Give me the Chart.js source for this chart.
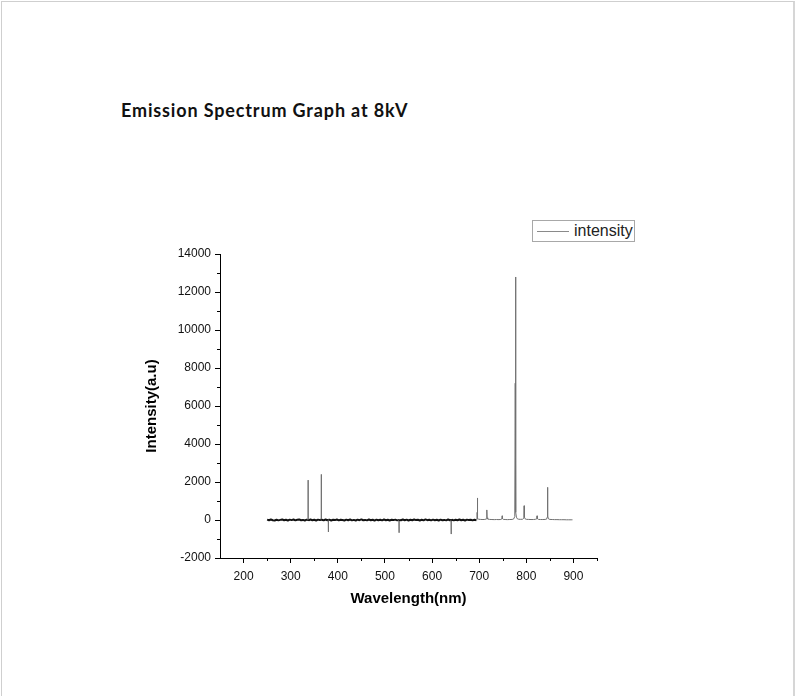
<!DOCTYPE html>
<html>
<head>
<meta charset="utf-8">
<script src="https://cdn.jsdelivr.net/npm/chart.js@4.4.1/dist/chart.umd.min.js"></script>
<style>
  html, body { margin: 0; padding: 0; background: #fff; }
  body { width: 797px; height: 696px; position: relative; overflow: hidden; }
  #frame { position: absolute; left: 1px; top: 1px; width: 791px; height: 720px;
           border-left: 1px solid #cfcfcf; border-top: 1px solid #cfcfcf; border-right: 2px solid #d6d6d6; }
  #title { position: absolute; left: 121px; top: 101px; font-family: Lato, "Open Sans", sans-serif;
           font-weight: bold; font-size: 18px; line-height: 18px; letter-spacing: 0.85px; color: #111; white-space: nowrap; }
  #legend { position: absolute; left: 532px; top: 220px; width: 101px; height: 20px;
            border: 1px solid #a8a8a8; background: #fff; }
  #legend .ln { position: absolute; left: 4px; top: 10px; width: 32px; height: 1px; background: #8a8a8a; }
  #legend .tx { position: absolute; left: 41px; top: 0px; font-family: "Liberation Sans", Arial, sans-serif;
                font-size: 16px; line-height: 20px; color: #222; }
  canvas { position: absolute; left: 0; top: 0; }
</style>
</head>
<body>
<div id="frame"></div>
<div id="title">Emission Spectrum Graph at 8kV</div>
<canvas id="c" width="797" height="696"></canvas>
<div id="legend"><div class="ln"></div><div class="tx">intensity</div></div>
<script>
// ---- data ----
const seriesName = 'intensity';
const xTitle = 'Wavelength(nm)';
const yTitle = 'Intensity(a.u)';
const xTickValues = [200, 300, 400, 500, 600, 700, 800, 900];
const xMinorTicks = [250, 350, 450, 550, 650, 750, 850, 950];
const yTickValues = [-2000, 0, 2000, 4000, 6000, 8000, 10000, 12000, 14000];
const yMinorTicks = [-1000, 1000, 3000, 5000, 7000, 9000, 11000, 13000];

const wavelength = [
  250,254,258,262,266,270,274,278,282,286,290,294,298,302,306,310,314,318,322,326,330,334,
  336.9,337,337.1,338,342,346,350,354,358,362,364.9,365,365.1,366,370,374,378,379.9,380,380.1,
  382,386,390,394,398,402,406,410,414,418,422,426,430,434,438,442,446,450,454,458,462,466,470,
  474,478,482,486,490,494,498,502,506,510,514,518,522,526,529.9,530,530.1,534,538,542,546,550,
  554,558,562,566,570,574,578,582,586,590,594,598,602,606,610,614,618,622,626,630,634,638,
  640.5,640.6,640.7,642,646,650,654,658,662,666,670,674,678,682,686,690,694,
  695.2,695.6,696,696.4,697,699,703,708,712,715.6,716.2,716.8,718,722,727,732,737,742,746,
  748.2,748.8,749.4,751,755,760,765,770,773,775.5,776.5,777,777.5,778,779,781,784,788,792,
  794.8,795.4,796,797.5,800,805,810,815,819,822.2,822.8,823.4,826,830,835,840,843,844.4,845,
  845.6,847,850,855,860,865,870,875,880,885,890,895,898
];
const intensity = [
  20,-15,25,-10,-25,15,-20,5,30,-15,10,-25,20,-5,25,-20,10,30,-15,5,-25,20,
  5,2100,0,-20,25,-10,15,-25,20,-5,10,2400,-5,15,-20,25,-15,5,-630,0,
  20,-25,10,-5,25,-20,15,0,-25,20,-10,25,-20,5,-25,20,-10,30,-15,5,-20,25,-10,
  15,-30,20,-15,10,-20,25,-10,15,-25,10,-5,20,-20,-5,-670,5,-15,25,-10,20,-25,
  10,-15,25,-5,15,-25,10,-20,30,-10,15,-20,20,-10,10,-25,20,-15,5,-20,25,-10,
  0,-740,0,15,-20,15,-10,25,-15,10,-25,20,-5,15,-20,10,-10,
  30,400,1160,300,80,40,30,25,30,60,530,120,50,30,25,20,25,20,30,
  60,220,70,35,25,20,25,30,50,180,7200,12790,3000,400,150,60,40,35,40,
  100,750,150,60,35,30,25,25,35,60,220,70,30,25,25,30,45,150,1720,
  200,60,30,25,20,20,15,15,15,10,10,10,10
];
const noisyEnd = 694;  // the dense, noisy part of the spectrum ends here

const points = wavelength.map((w, i) => ({ x: w, y: intensity[i] }));

const axisFont = { family: '"Liberation Sans", Arial, sans-serif', size: 12 };
const titleFont = { family: '"Liberation Sans", Arial, sans-serif', size: 15, weight: 'bold' };

const isNoise = ctx => ctx.p1.parsed.x <= noisyEnd &&
  Math.abs(ctx.p0.parsed.y) < 300 && Math.abs(ctx.p1.parsed.y) < 300;

const minorTicks = {
  id: 'minorTicks',
  afterDraw(chart) {
    const { ctx, scales: { x, y }, chartArea } = chart;
    ctx.save();
    ctx.strokeStyle = '#000';
    ctx.lineWidth = 1;
    ctx.beginPath();
    xMinorTicks.forEach(v => {
      const px = Math.round(x.getPixelForValue(v)) + 0.5;
      ctx.moveTo(px, chartArea.bottom);
      ctx.lineTo(px, chartArea.bottom + 3);
    });
    yMinorTicks.forEach(v => {
      const py = Math.round(y.getPixelForValue(v)) + 0.5;
      ctx.moveTo(chartArea.left - 3, py);
      ctx.lineTo(chartArea.left, py);
    });
    ctx.stroke();
    ctx.restore();
  }
};

new Chart(document.getElementById('c'), {
  type: 'scatter',
  data: {
    datasets: [{
      label: seriesName,
      data: points,
      showLine: true,
      pointRadius: 0,
      borderWidth: 1,
      borderColor: '#7a7a7a',
      borderJoinStyle: 'bevel',
      segment: {
        borderColor: ctx => (isNoise(ctx) ? '#111' : '#707070'),
        borderWidth: ctx => (isNoise(ctx) ? 2 : 1)
      }
    }]
  },
  options: {
    responsive: false,
    animation: false,
    devicePixelRatio: 1,
    layout: { padding: { left: 140, right: 200, top: 254, bottom: 78 } },
    plugins: { legend: { display: false }, title: { display: false }, tooltip: { enabled: false } },
    scales: {
      x: {
        type: 'linear', position: 'bottom', min: 150, max: 950,
        afterBuildTicks: s => { s.ticks = xTickValues.map(v => ({ value: v })); },
        afterFit: s => { s.height = 60; },
        border: { display: true, color: '#000', width: 1 },
        grid: { display: true, drawOnChartArea: false, drawTicks: true, tickLength: 5, tickColor: '#000' },
        ticks: { color: '#111', font: axisFont, padding: 6, maxRotation: 0, autoSkip: false,
                 callback: v => String(v) },
        title: { display: true, text: xTitle, color: '#000', font: titleFont, padding: { top: 0, bottom: 10 } }
      },
      y: {
        type: 'linear', position: 'left', min: -2000, max: 14000,
        afterBuildTicks: s => { s.ticks = yTickValues.map(v => ({ value: v })); },
        afterFit: s => { s.width = 80; },
        border: { display: true, color: '#000', width: 1 },
        grid: { display: true, drawOnChartArea: false, drawTicks: true, tickLength: 5, tickColor: '#000' },
        ticks: { color: '#111', font: axisFont, padding: 4, autoSkip: false,
                 callback: v => String(v) },
        title: { display: true, text: yTitle, color: '#000', font: titleFont, padding: { top: 3, bottom: 0 } }
      }
    }
  },
  plugins: [minorTicks]
});
</script>
</body>
</html>
